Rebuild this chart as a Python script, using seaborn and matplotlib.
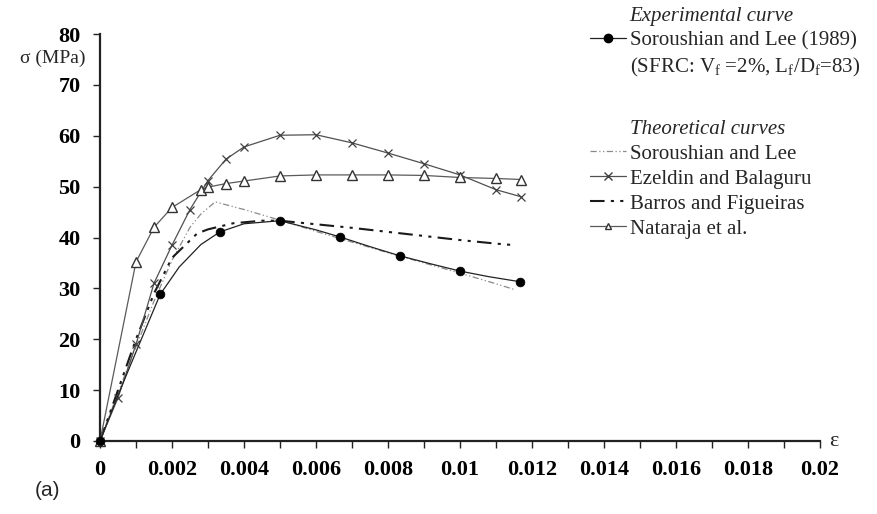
import matplotlib
matplotlib.use("Agg")
import matplotlib.pyplot as plt
from matplotlib.lines import Line2D
from matplotlib.ticker import MultipleLocator, FuncFormatter
import seaborn as sns

# Experimental curve, Soroushian and Lee (1989): measured points
exp_strain = [0, 0.00167, 0.00333, 0.005, 0.00667, 0.00833, 0.01, 0.01167]
exp_stress = [0, 28.8, 41.1, 43.3, 40.1, 36.4, 33.4, 31.3]
# read along the experimental curve between the points
exp_line_strain = [0, 0.0005, 0.001, 0.00167, 0.0022, 0.0028, 0.00333, 0.004, 0.005,
                   0.006, 0.00667, 0.0075, 0.00833, 0.0092, 0.01, 0.0108, 0.01167]
exp_line_stress = [0, 9.0, 17.5, 28.8, 34.2, 38.6, 41.1, 42.7, 43.3,
                   41.5, 40.1, 38.2, 36.4, 34.8, 33.4, 32.3, 31.3]

# Theoretical curves
sor_strain = [0, 0.0005, 0.001, 0.0015, 0.002, 0.0025, 0.0028, 0.0032, 0.004,
              0.005, 0.006, 0.007, 0.008, 0.009, 0.01, 0.011, 0.0115]
sor_stress = [0, 9.5, 18.5, 27.5, 35.5, 42.0, 44.6, 47.0, 45.5,
              43.4, 41.2, 39.1, 37.0, 35.0, 33.0, 30.9, 29.8]

eze_strain = [0, 0.0005, 0.001, 0.0015, 0.002, 0.0025, 0.003, 0.0035, 0.004,
              0.005, 0.006, 0.007, 0.008, 0.009, 0.01, 0.011, 0.0117]
eze_stress = [0, 8.5, 19.0, 31.0, 38.5, 45.5, 51.2, 55.4, 57.8,
              60.1, 60.2, 58.6, 56.6, 54.5, 52.3, 49.4, 48.0]

bar_strain = [0, 0.0005, 0.001, 0.0015, 0.002, 0.0027, 0.003, 0.0037, 0.0045,
              0.005, 0.006, 0.007, 0.008, 0.009, 0.01, 0.011, 0.0115]
bar_stress = [0, 10.0, 20.0, 29.0, 36.0, 40.8, 41.6, 42.8, 43.3,
              43.3, 42.6, 41.9, 41.1, 40.3, 39.5, 38.8, 38.5]

nat_strain = [0, 0.001, 0.0015, 0.002, 0.0028, 0.003, 0.0035, 0.004, 0.005,
              0.006, 0.007, 0.008, 0.009, 0.01, 0.011, 0.0117]
nat_stress = [0, 35.2, 42.0, 45.9, 49.4, 49.9, 50.6, 51.1, 52.1,
              52.3, 52.3, 52.3, 52.2, 51.8, 51.6, 51.4]

x_ticks = [0, 0.002, 0.004, 0.006, 0.008, 0.01, 0.012, 0.014, 0.016, 0.018, 0.02]
y_ticks = [0, 10, 20, 30, 40, 50, 60, 70, 80]

###########
# Styling #
###########

sns.set_theme(style="ticks")
plt.rcParams["font.family"] = ["Liberation Serif", "DejaVu Serif"]
plt.rcParams["mathtext.fontset"] = "custom"
plt.rcParams["mathtext.rm"] = "Liberation Serif"
plt.rcParams["mathtext.it"] = "Liberation Serif:italic"

fig = plt.figure(figsize=(8.77, 5.14), dpi=100)
ax = fig.add_axes([100 / 877, 73 / 514, 720 / 877, 407 / 514])

bar_dash = (7, 3, 1.5, 3, 1.5, 3)
sor_dash = (5, 2, 1, 2, 1, 2)

# theoretical curves
sns.lineplot(x=sor_strain, y=sor_stress, ax=ax, color="#8a8a8a", lw=0.9,
             estimator=None, sort=False)
ax.lines[-1].set_dashes(sor_dash)
sns.lineplot(x=bar_strain, y=bar_stress, ax=ax, color="#1a1a1a", lw=1.5,
             estimator=None, sort=False)
ax.lines[-1].set_dashes(bar_dash)
sns.lineplot(x=eze_strain, y=eze_stress, ax=ax, color="#505050", lw=0.9,
             estimator=None, sort=False, marker="x", markersize=6,
             markeredgewidth=0.9, markeredgecolor="#404040")
sns.lineplot(x=nat_strain, y=nat_stress, ax=ax, color="#5a5a5a", lw=0.9,
             estimator=None, sort=False, marker="^", markersize=7,
             markerfacecolor="white", markeredgecolor="#333333",
             markeredgewidth=1.0)

# experimental curve
sns.lineplot(x=exp_line_strain, y=exp_line_stress, ax=ax, color="#222222",
             lw=0.9, estimator=None, sort=False)
sns.scatterplot(x=exp_strain, y=exp_stress, ax=ax, color="black", s=40,
                edgecolor="black", zorder=5)

for ln in ax.lines:
    ln.set_clip_on(False)
for c in ax.collections:
    c.set_clip_on(False)

# axes
ax.set_xlim(0, 0.02)
ax.set_ylim(0, 80)
ax.set_xticks(x_ticks)
ax.set_yticks(y_ticks)
ax.xaxis.set_minor_locator(MultipleLocator(0.001))
ax.xaxis.set_major_formatter(FuncFormatter(lambda v, p: f"{v:g}"))
sns.despine(ax=ax)
for side in ["left", "bottom"]:
    ax.spines[side].set_linewidth(1.6)
    ax.spines[side].set_color("#222222")
ax.tick_params(axis="both", which="both", direction="out", length=5,
               width=1.0, colors="#222222", labelcolor="black")
ax.tick_params(axis="x", pad=9)
ax.tick_params(axis="y", pad=9)
for lab in ax.get_xticklabels() + ax.get_yticklabels():
    lab.set_fontweight("bold")
    lab.set_fontsize(16)
ax.set_xlabel("")
ax.set_ylabel("")

trans = ax.get_yaxis_transform()
ax.text(-0.066, 75.3, "σ (MPa)", transform=trans, ha="center", va="center",
        fontsize=14)
ax.text(1.012, 0, "ε", transform=trans, ha="left", va="center", fontsize=16)
fig.text(35 / 877, 1 - 491 / 514, "(a)", family="Liberation Sans",
         fontsize=15, ha="left", va="center")

# legends: experimental block and theoretical block
blank = Line2D([], [], linestyle="none")
h_exp = Line2D([], [], color="#222222", lw=0.9, marker="o", markersize=6,
               markerfacecolor="black", markeredgecolor="black")
h_sor = Line2D([], [], color="#8a8a8a", lw=0.9, dashes=sor_dash)
h_eze = Line2D([], [], color="#505050", lw=0.9, marker="x", markersize=6,
               markeredgecolor="#404040")
h_bar = Line2D([], [], color="#1a1a1a", lw=1.5, dashes=bar_dash)
h_nat = Line2D([], [], color="#5a5a5a", lw=0.9, marker="^", markersize=5,
               markerfacecolor="white", markeredgecolor="#333333")

leg_kw = dict(loc="upper left", frameon=False, fontsize=15, handlelength=1.75,
              handletextpad=0.15, labelspacing=0.26, borderpad=0.0,
              borderaxespad=0.0)
leg1 = fig.legend([blank, h_exp, blank],
                  ["Experimental curve", "Soroushian and Lee (1989)",
                   r"(SFRC: V$_\mathrm{f}$ =2%, L$_\mathrm{f}$/D$_\mathrm{f}$=83)"],
                  bbox_to_anchor=(590 / 877, 1 - 6 / 514), **leg_kw)
leg1.get_texts()[0].set_style("italic")
leg2 = fig.legend([blank, h_sor, h_eze, h_bar, h_nat],
                  ["Theoretical curves", "Soroushian and Lee",
                   "Ezeldin and Balaguru", "Barros and Figueiras",
                   "Nataraja et al."],
                  bbox_to_anchor=(590 / 877, 1 - 119 / 514), **leg_kw)
leg2.get_texts()[0].set_style("italic")

fig.savefig("out.png", dpi=100)
